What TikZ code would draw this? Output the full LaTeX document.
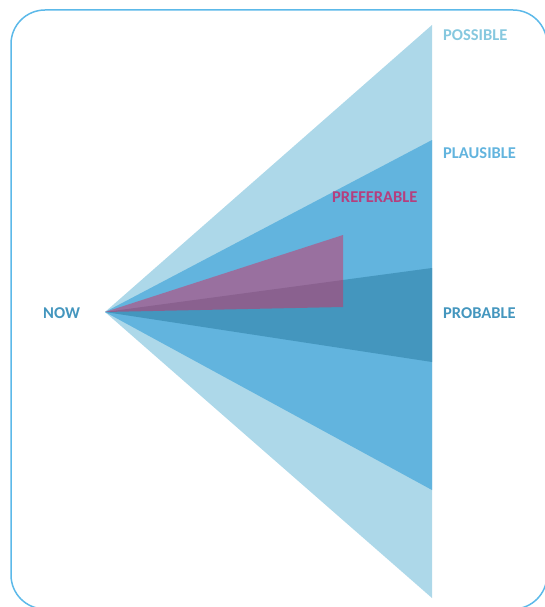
\documentclass[tikz,border=0pt]{standalone}
\usepackage{fontspec}
\setmainfont{Carlito}
\usetikzlibrary{positioning}
\definecolor{possiblec}{HTML}{ADD8E9}
\definecolor{plausiblec}{HTML}{62B4DE}
\definecolor{probablec}{HTML}{4496BE}
\definecolor{preferc}{HTML}{D02E62}
\definecolor{possibletxt}{HTML}{86C8DF}
\definecolor{prefertxt}{HTML}{B53F7E}
\definecolor{framec}{HTML}{5CB9E9}
\begin{document}
\begin{tikzpicture}[x=1pt,y=-1pt,
    cone/.style={draw=none},
    label text/.style={font=\bfseries\fontsize{16.5}{18}\selectfont, anchor=west, inner sep=0pt}]
    \useasboundingbox (0,0) rectangle (545,607);
    \draw[framec, line width=1.5pt, rounded corners=34pt] (11,10) rectangle (547,609);

    \coordinate (now) at (105,312);
    % cones
    \fill[cone, possiblec] (now) -- (432,25) -- (432,598) -- cycle;
    \fill[cone, plausiblec] (now) -- (432,140) -- (432,490) -- cycle;
    \fill[cone, probablec] (now) -- (432,268) -- (432,362) -- cycle;
    \fill[cone, preferc, fill opacity=0.5] (now) -- (343,235) -- (343,307) -- cycle;

    % labels
    \node[label text, text=possibletxt] (possible) at (443,35) {POSSIBLE};
    \node[label text, text=plausiblec] (plausible) at (443,153) {PLAUSIBLE};
    \node[label text, text=prefertxt] (preferable) at (332,197) {PREFERABLE};
    \node[label text, text=probablec] (probable) at (443,313) {PROBABLE};
    \node[label text, text=probablec] (nowlabel) at (43,313) {NOW};
\end{tikzpicture}
\end{document}
